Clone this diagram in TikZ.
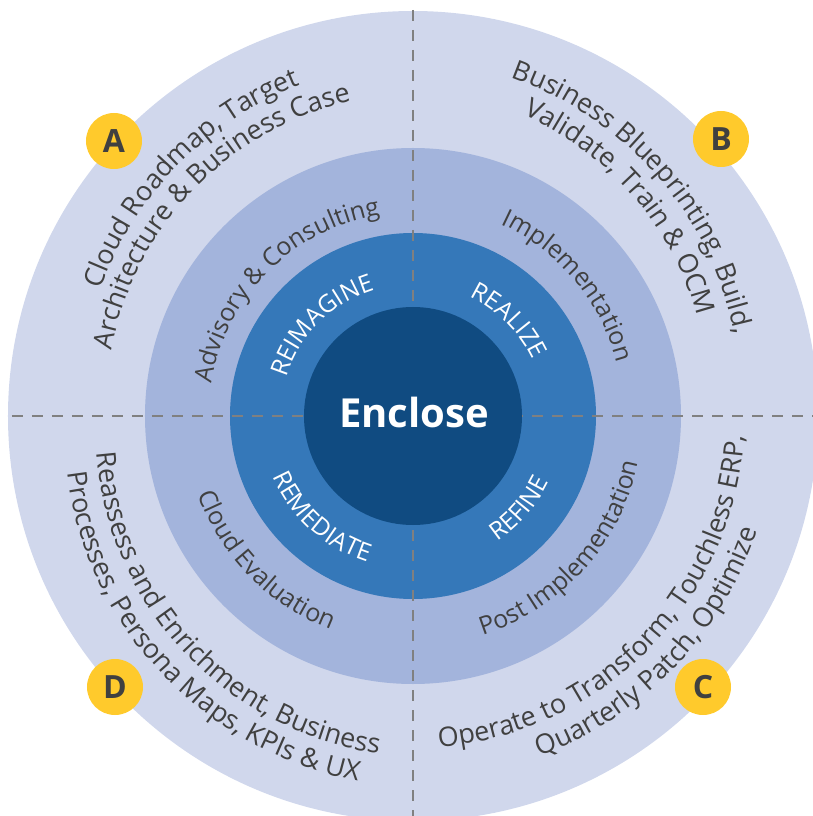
\documentclass[tikz,border=0pt]{standalone}
\usepackage{fontspec}
\setmainfont{Open Sans}
\usetikzlibrary{decorations.text}
\definecolor{ringA}{HTML}{D0D7EC}
\definecolor{ringB}{HTML}{A3B4DC}
\definecolor{ringC}{HTML}{3578B9}
\definecolor{ringD}{HTML}{104B81}
\definecolor{badgeyellow}{HTML}{FFCA2C}
\definecolor{ink}{HTML}{404040}
\definecolor{dashgray}{HTML}{808080}
\newcommand{\outerfnt}{\fontsize{27}{31}\selectfont\color{ink}}
\newcommand{\midfnt}{\fontsize{25}{30}\selectfont\color{ink}}
\newcommand{\innerfnt}{\fontsize{24.5}{28}\selectfont\color{white}}
\begin{document}
\begin{tikzpicture}[x=1pt,y=1pt,
  arctext/.style={decorate, decoration={text along path, text align=center, text={#1}}},
  badgenode/.style={circle, fill=badgeyellow, minimum size=56pt, inner sep=0pt,
    text=ink, font=\fontsize{32}{34}\selectfont\bfseries},
  divider/.style={draw=dashgray, line width=2.6pt, dash pattern=on 11pt off 9pt}]
\useasboundingbox (-413,-400) rectangle (400,416);
\clip (-413,-400) rectangle (400,416);
% rings
\fill[ringA] (0,0) circle[radius=405];
\fill[ringB] (0,0) circle[radius=268];
\fill[ringC] (0,0) circle[radius=183];
% dividers
\coordinate (W) at (-401,0);
\coordinate (E) at (400,0);
\coordinate (N) at (0,406);
\coordinate (S) at (0,-400);
\draw[divider] (W) -- (E);
\draw[divider] (N) -- (S);
% core
\fill[ringD] (0,0) circle[radius=109];
\node[text=white, font=\fontsize{40}{42}\selectfont\bfseries] (enc) at (1,3) {Enclose};
% quadrant A (top left)
\path[arctext={|\outerfnt|Cloud Roadmap, Target}] plot[domain=205:65, samples=80] (\x:{343-0.26*(\x-135)});
\path[arctext={|\outerfnt|Architecture {\&} Business Case}] plot[domain=205.5:65.5, samples=80] (\x:{314.5-0.185*(\x-135.5)});
\path[arctext={|\midfnt|Advisory {\&} Consulting}] (200:204) arc[start angle=200, end angle=70, radius=204];
\path[arctext={|\innerfnt|REIMAGINE}] (200:132) arc[start angle=200, end angle=70, radius=132];
% quadrant B (top right)
\path[arctext={|\outerfnt|Business Blueprinting, Build,}] plot[domain=112:-28, samples=80] (\x:{341.5+0.345*(\x-42)});
\path[arctext={|\outerfnt|Validate, Train {\&} OCM}] plot[domain=112:-28, samples=80] (\x:{310+0.38*(\x-42)});
\path[arctext={|\midfnt|Implementation}] (105:211) arc[start angle=105, end angle=-25, radius=211];
\path[arctext={|\innerfnt|REALIZE}] (110:132) arc[start angle=110, end angle=-20, radius=132];
% quadrant C (bottom right)
\path[arctext={|\outerfnt|Operate to Transform, Touchless ERP,}] (-114.5:332) arc[start angle=-114.5, end angle=25.5, radius=332];
\path[arctext={|\outerfnt|Quarterly Patch, Optimize}] (-114:363) arc[start angle=-114, end angle=26, radius=363];
\path[arctext={|\midfnt|Post Implementation}] (-112:230) arc[start angle=-112, end angle=28, radius=230];
\path[arctext={|\innerfnt|REFINE}] (-111:151) arc[start angle=-111, end angle=29, radius=151];
% quadrant D (bottom left)
\path[arctext={|\outerfnt|Reassess and Enrichment, Business}] plot[domain=154:294, samples=80] (\x:{328.5+0.276*(\x-224)});
\path[arctext={|\outerfnt|Processes, Persona Maps, KPIs {\&} UX}] plot[domain=154:294, samples=80] (\x:{359.5+0.264*(\x-224)});
\path[arctext={|\midfnt|Cloud Evaluation}] (154.5:229) arc[start angle=154.5, end angle=294.5, radius=229];
\path[arctext={|\innerfnt|REMEDIATE}] (158:153) arc[start angle=158, end angle=298, radius=153];
% badges
\node[badgenode] (bA) at (-299,275) {A};
\node[badgenode] (bB) at (308,277) {B};
\node[badgenode] (bC) at (290,-271) {C};
\node[badgenode] (bD) at (-298,-271) {D};
\end{tikzpicture}
\end{document}
